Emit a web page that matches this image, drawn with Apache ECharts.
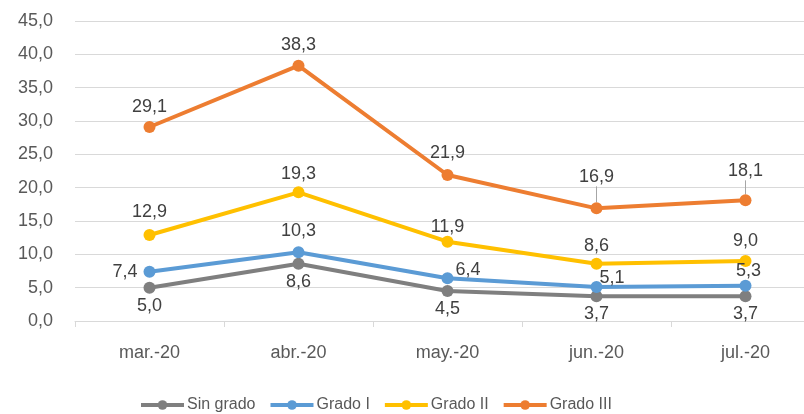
<!DOCTYPE html>
<html>
<head>
<meta charset="utf-8">
<script src="https://cdn.jsdelivr.net/npm/echarts@6/dist/echarts.min.js"></script>
<style>
  html, body { margin: 0; padding: 0; background: #fff; }
  #main { width: 804px; height: 414px; }
</style>
</head>
<body>
<div id="main"></div>
<script>
let months = ['mar.-20', 'abr.-20', 'may.-20', 'jun.-20', 'jul.-20'];
let sinGrado = [5.0, 8.6, 4.5, 3.7, 3.7];
let gradoI = [7.4, 10.3, 6.4, 5.1, 5.3];
let gradoII = [12.9, 19.3, 11.9, 8.6, 9.0];
let gradoIII = [29.1, 38.3, 21.9, 16.9, 18.1];

function fmt(v) {
    return Number(v).toFixed(1).replace('.', ',');
}

// label placement for Grado I points
let gradoIPos = [
    { position: 'left', distance: 6 },
    { position: 'top', distance: 6 },
    { position: 'right', distance: 2, offset: [0, -8] },
    { position: 'right', distance: -3, offset: [0, -9] },
    { position: 'top', distance: 0, offset: [3, 0] }
];
let gradoIIDist = [8, 3, 0, 3, 5];
let gradoIIIDist = [5, 6, 7, 8, 8];
let gradoIIILift = [0, 0, 0, 8, 6];

window.addEventListener('load', function () {
    let chart = echarts.init(document.getElementById('main'));
    let txt = '#404040';
    let font = 'Liberation Sans';

    function mkSeries(name, data, color, labelOpt) {
        return {
            name: name,
            type: 'line',
            data: data,
            symbol: 'circle',
            symbolSize: 12,
            lineStyle: { width: 4, color: color },
            itemStyle: { color: color },
            label: Object.assign({
                show: true,
                color: txt,
                fontFamily: font,
                fontSize: 18,
                formatter: function (p) { return fmt(p.value); }
            }, labelOpt)
        };
    }

    let s3 = mkSeries('Grado III', gradoIII.map(function (v, i) {
        return {
            value: v,
            label: { distance: gradoIIIDist[i] },
            labelLine: { show: gradoIIILift[i] > 0 }
        };
    }), '#ed7d31', { position: 'top' });
    s3.labelLine = { show: false, lineStyle: { color: '#a6a6a6', width: 1 } };
    s3.labelLayout = function (p) {
        return { dy: -gradoIIILift[p.dataIndex] };
    };

    let option = {
        animation: false,
        textStyle: { fontFamily: font },
        grid: { left: 75, width: 745, top: 21, height: 300, outerBoundsMode: 'none', containLabel: false },
        legend: {
            left: 139,
            top: 397,
            padding: 0,
            itemWidth: 43,
            itemHeight: 12,
            itemGap: 13,
            lineStyle: { width: 4 },
            textStyle: { color: '#595959', fontSize: 16, fontFamily: font, padding: [0, 0, 0, -2] },
            data: ['Sin grado', 'Grado I', 'Grado II', 'Grado III']
        },
        xAxis: {
            type: 'category',
            data: months,
            boundaryGap: true,
            axisLine: { lineStyle: { color: '#d9d9d9', width: 1 } },
            axisTick: { show: true, length: 6, lineStyle: { color: '#d9d9d9' } },
            axisLabel: { color: '#595959', fontSize: 18, fontFamily: font, margin: 23 }
        },
        yAxis: {
            type: 'value',
            min: 0,
            max: 45,
            interval: 5,
            axisLine: { show: false },
            axisTick: { show: false },
            splitLine: { lineStyle: { color: '#d9d9d9', width: 1 } },
            axisLabel: {
                color: '#595959', fontSize: 18, fontFamily: font, margin: 22,
                formatter: function (v) { return fmt(v); }
            }
        },
        series: [
            mkSeries('Sin grado', sinGrado, '#7f7f7f', { position: 'bottom', distance: 3 }),
            mkSeries('Grado I', gradoI.map(function (v, i) {
                return { value: v, label: gradoIPos[i] };
            }), '#5b9bd5', {}),
            mkSeries('Grado II', gradoII.map(function (v, i) {
                return { value: v, label: { distance: gradoIIDist[i] } };
            }), '#ffc000', { position: 'top' }),
            s3
        ]
    };

    chart.setOption(option);
}, false);
</script>
</body>
</html>
